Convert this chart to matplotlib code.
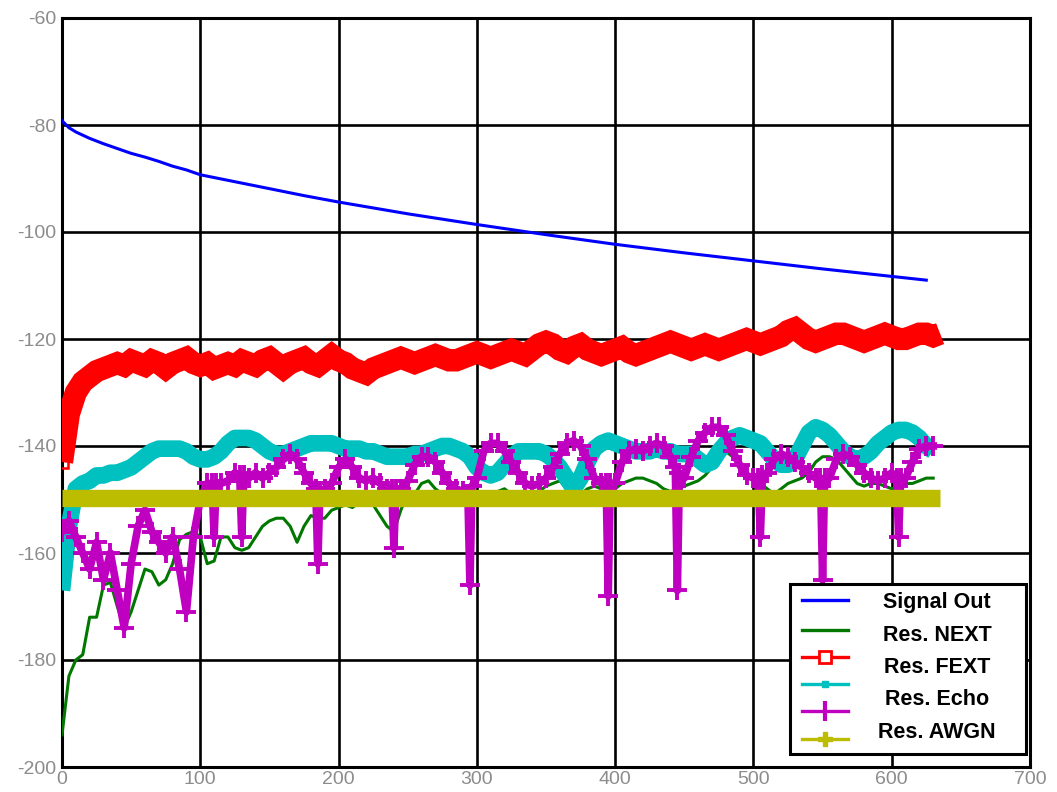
import numpy as np
import matplotlib
matplotlib.use('Agg')
import matplotlib.pyplot as plt
import matplotlib.patches as patches

plt.rcParams['axes.unicode_minus'] = False

# ── data ──────────────────────────────────────────────────────────
signal_x = [0, 5, 10, 20, 30, 40, 50, 60, 70, 80, 90, 100, 125, 150, 175,
            200, 250, 300, 350, 400, 450, 500, 550, 600, 625]
signal_y = [-79.2, -80.5, -81.3, -82.5, -83.5, -84.4, -85.3, -86.0, -86.8,
            -87.7, -88.4, -89.3, -90.6, -91.9, -93.2, -94.4, -96.6, -98.6,
            -100.5, -102.3, -103.9, -105.4, -106.9, -108.3, -109.0]

STEP = 5  # sample spacing of the noisy series

next_y = [
    -194, -183, -180, -179, -172, -172, -166, -165.5, -170, -174,
    -171, -167, -163, -163.5, -166, -165, -162, -157.5, -156.5, -156,
    -157, -162, -161.5, -157, -157, -159, -159.5, -159, -157, -155,
    -154, -153.5, -153.5, -155, -158, -155, -153, -153.5, -153.5, -152,
    -151.5, -151, -151.5, -150.5, -150, -151, -153, -155, -156, -152,
    -149, -149, -147, -146.5, -148, -149, -150, -149.5, -148, -148.5,
    -150, -149.5, -149, -148.5, -148, -149, -150, -150, -149.5, -148.5,
    -147.5, -147, -146.5, -148, -149.5, -149, -148, -147.5, -148, -149,
    -148, -147, -146.5, -146, -146, -146.5, -147, -148, -148.5, -148,
    -147.5, -147, -146.5, -145.5, -144, -142.5, -141, -142, -143.5, -145,
    -146, -147, -148, -149, -148, -147, -146.5, -146, -145, -143,
    -142, -142, -142.5, -144, -145.5, -147, -147.5, -147, -147, -147.5,
    -148, -147.5, -147, -147, -146.5, -146, -146,
]

fext_y = [
    -143, -134, -130, -128, -127, -126, -125.5, -125, -124.5, -125,
    -124, -124.5, -125, -124, -124.5, -125.5, -124.5, -124, -123.5, -124.5,
    -125, -124.5, -125.5, -125, -124.5, -125, -124, -124.5, -125, -124,
    -123.5, -124.5, -125.5, -124.5, -124, -123.5, -124.5, -125, -124, -123,
    -124, -124.5, -125.5, -126, -126.5, -125.5, -125, -124.5, -124, -123.5,
    -124, -124.5, -124, -123.5, -123, -123.5, -124, -124, -123.5, -123,
    -122.5, -123, -123.5, -123, -122.5, -122, -122.5, -123, -122, -121,
    -120.5, -121, -122, -122.5, -121.5, -121, -122, -122.5, -123, -122.5,
    -122, -121.5, -122.5, -123, -122.5, -122, -121.5, -121, -120.5, -121,
    -121.5, -122, -121.5, -121, -121.5, -122, -121.5, -121, -120.5, -120,
    -120.5, -121, -120.5, -120, -119.5, -118.5, -118, -119, -120, -120.5,
    -120, -119.5, -119, -119, -119.5, -120, -120.5, -120, -119.5, -119,
    -119.5, -120, -120, -119.5, -119, -119, -119.5, -119,
]

echo_y = [  # cyan
    -167, -155, -148, -147, -146.5, -145.5, -145.5, -145, -145, -144.5,
    -144, -143, -142, -141, -140.5, -140.5, -140.5, -140.5, -141, -142,
    -142.5, -142.5, -142, -141, -139.5, -138.5, -138.5, -138.5, -139, -140,
    -141, -141.5, -141.5, -141, -140.5, -140, -139.5, -139.5, -139.5, -139.5,
    -140, -140.5, -140.5, -140.5, -141, -141, -141.5, -142, -142, -142,
    -142, -141.5, -141.5, -141, -140.5, -140, -140, -140.5, -141, -142,
    -144, -145, -145.5, -145, -143.5, -142, -141, -141, -141, -141,
    -141.5, -142.5, -144, -146, -148, -146, -143, -140.5, -139.5, -139,
    -139.5, -140, -140.5, -141, -141, -141, -140.5, -141, -141, -141.5,
    -141.5, -141.5, -142.5, -143.5, -143, -141, -139.5, -138.5, -138, -138.5,
    -139, -139.5, -141, -142.5, -143.5, -143.5, -142.5, -140, -137.5, -136.5,
    -137, -138, -139.5, -141, -142, -142.5, -142, -141, -139.5, -138.5,
    -137.5, -137, -137, -137.5, -138.5, -140, -141,
]

# magenta series: uneven x so the downward spikes stay narrow
echo2_x = [
    0, 5, 10, 15, 20, 25, 30, 35, 40, 45, 50, 55, 60, 65, 70, 75, 80, 85,
    90, 95, 100, 105, 108.5, 110, 111.5, 115, 120, 125, 128.5, 130, 131.5,
    135, 140, 145, 150, 155, 160, 165, 170, 175, 180, 183.5, 185, 186.5,
    190, 195, 200, 205, 210, 215, 220, 225, 230, 235, 238.5, 240, 241.5,
    245, 250, 255, 260, 265, 270, 275, 280, 285, 290, 293.5, 295, 296.5,
    300, 305, 310, 315, 320, 325, 330, 335, 340, 345, 350, 355, 360, 365,
    370, 375, 380, 385, 390, 393.5, 395, 396.5, 400, 405, 410, 415, 420,
    425, 430, 435, 440, 443.5, 445, 446.5, 450, 455, 460, 465, 470, 475,
    480, 485, 490, 495, 500, 503.5, 505, 506.5, 510, 515, 520, 525, 530,
    535, 540, 545, 548.5, 550, 551.5, 555, 560, 565, 570, 575, 580, 585,
    590, 595, 600, 603.5, 605, 606.5, 610, 615, 620, 625, 630,
]
echo2_y = [
    -156, -154, -157, -160, -163, -158, -165, -160, -167, -174, -162, -155,
    -152, -156, -158, -160, -157, -163, -171, -157, -150, -147, -147, -157,
    -147, -147, -146.5, -145, -145.5, -157, -145.5, -146, -145, -146, -145,
    -144, -142.5, -141.5, -142.5, -145, -147, -148, -162, -148.5, -148,
    -147, -144, -142.5, -144, -146, -146.5, -146, -147, -148, -148, -159,
    -148, -148, -146.5, -143.5, -142, -142, -143, -145, -147, -148, -148.5,
    -149, -166, -147.5, -146, -141, -139.5, -139.5, -141, -143, -145, -147,
    -147.5, -147, -146, -144, -141.5, -139.5, -139, -140, -142.5, -146,
    -147, -147, -168, -147, -147, -143, -141, -140.5, -141, -140, -139.5,
    -140, -142, -144, -167, -145, -146, -142, -139, -137.5, -136.5, -136.5,
    -138, -141, -143.5, -145.5, -146, -146, -157, -145.5, -145, -142.5,
    -141.5, -142, -143, -144, -145, -146, -146, -165, -146, -146, -142.5,
    -141.5, -142, -143.5, -145, -146, -146.5, -146, -145, -146, -157, -146,
    -146, -143, -140.5, -140, -140,
]

awgn_x = [0, 635]
awgn_y = [-149.8, -149.8]

labels = ['Signal Out', 'Res. NEXT', 'Res. FEXT', 'Res. Echo', 'Res. AWGN']

def xs(vals):
    return np.arange(len(vals)) * STEP

# ── figure ────────────────────────────────────────────────────────
W, H = 1057, 792
fig = plt.figure(figsize=(W / 100, H / 100), dpi=100)
fig.patch.set_facecolor('white')
ax = fig.add_axes([62 / W, 1 - 767 / H, 968 / W, 749 / H])

ax.plot(signal_x, signal_y, color='#0000ff', lw=2.2, zorder=3)
ax.plot(xs(next_y), next_y, color='#007800', lw=2.2, zorder=3)
ax.plot(xs(fext_y), fext_y, color='#ff0000', lw=16, zorder=4,
        solid_joinstyle='miter', solid_capstyle='butt')
ax.plot(xs(fext_y)[:3], fext_y[:3], ls='none', marker='s', ms=9, mfc='none',
        mec='#ff0000', mew=1.8, zorder=4)
ax.plot(xs(echo_y), echo_y, color='#00c0c0', lw=12, zorder=5,
        solid_capstyle='butt')
ax.plot(echo2_x, echo2_y, color='#c000c0', lw=5.5, marker='+',
        ms=14, mew=2.8, zorder=6)
ax.plot(awgn_x, awgn_y, color='#bcbc00', lw=12.5, solid_capstyle='butt',
        zorder=7)

ax.set_xlim(0, 700)
ax.set_ylim(-200, -60)
ax.set_xticks(np.arange(0, 701, 100))
ax.set_yticks(np.arange(-200, -59, 20))
ax.grid(True, color='black', lw=1.9)
ax.set_axisbelow(True)
for s in ax.spines.values():
    s.set_linewidth(2.2)
    s.set_color('black')
ax.tick_params(length=0, labelsize=14, labelcolor='#8c8c8c')
ax.tick_params(axis='y', pad=4)
ax.tick_params(axis='x', pad=3)
for lab in ax.get_xticklabels() + ax.get_yticklabels():
    lab.set_family('Liberation Sans')

# ── legend (drawn by hand, six samples but five labels) ───────────
tr = ax.transAxes
ax.add_patch(patches.Rectangle((0.752, 0.0174), 0.244, 0.227, transform=tr,
             facecolor='white', edgecolor='black', lw=2.2, zorder=20))
samples = [
    ('#0000ff', None, {}),
    ('#007800', None, {}),
    ('#ff0000', 's', dict(ms=9, mfc='white', mec='#ff0000', mew=2)),
    ('#00c0c0', 's', dict(ms=5, mfc='#00c0c0', mec='#00c0c0')),
    ('#c000c0', '|', dict(ms=14, mew=3, mec='#c000c0')),
    ('#bcbc00', 'P', dict(ms=10, mfc='#bcbc00', mec='#bcbc00')),
]
line_y = [0.2230, 0.1829, 0.1469, 0.1108, 0.0748, 0.0374]
for (c, m, kw), y in zip(samples, line_y):
    ax.plot([0.7645, 0.812], [y, y], color=c, lw=2.4, transform=tr,
            zorder=21, clip_on=False)
    if m:
        ax.plot([0.788], [y], ls='none', marker=m, transform=tr, zorder=22,
                clip_on=False, **kw)
label_y = [0.2190, 0.1762, 0.1322, 0.0895, 0.0454]
for lab, y in zip(labels, label_y):
    ax.text(0.904, y, lab, transform=tr, ha='center', va='center',
            fontsize=15.5, fontweight='bold', family='Liberation Sans',
            zorder=23)

fig.savefig('out.png', dpi=100, facecolor='white')
